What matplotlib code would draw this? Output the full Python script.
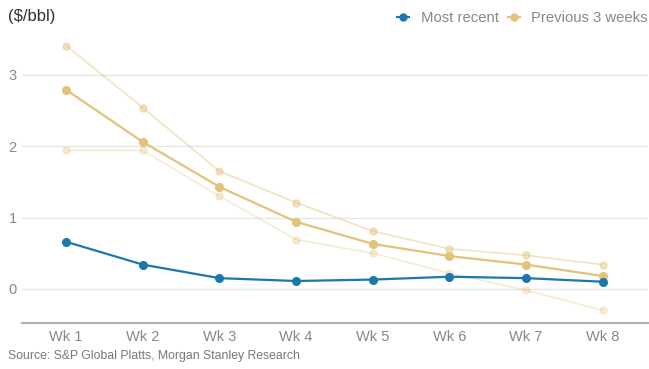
import matplotlib
matplotlib.use("Agg")
import matplotlib.pyplot as plt
from matplotlib.lines import Line2D

plt.rcParams['font.family'] = ['Liberation Sans', 'DejaVu Sans']

weeks = ["Wk 1", "Wk 2", "Wk 3", "Wk 4", "Wk 5", "Wk 6", "Wk 7", "Wk 8"]
most_recent = [0.66, 0.34, 0.15, 0.11, 0.13, 0.17, 0.15, 0.10]
prev_week_1 = [2.79, 2.06, 1.43, 0.94, 0.63, 0.46, 0.34, 0.18]
prev_week_2 = [3.41, 2.54, 1.65, 1.21, 0.81, 0.56, 0.47, 0.34]
prev_week_3 = [1.94, 1.94, 1.30, 0.69, 0.50, 0.22, -0.02, -0.30]
y_ticks = [0, 1, 2, 3]

blue = "#1a78ad"
gold = "#e3c27a"

fig = plt.figure(figsize=(6.49, 3.69), dpi=100)
ax = fig.add_axes([0.034, 0.125, 0.964, 0.821])

x = list(range(len(weeks)))
ax.plot(x, prev_week_3, color=gold, alpha=0.3, lw=1.2, marker='o', ms=5, zorder=2)
ax.plot(x, prev_week_2, color=gold, alpha=0.45, lw=1.2, marker='o', ms=5, zorder=2)
ax.plot(x, prev_week_1, color=gold, lw=1.6, marker='o', ms=5.5, zorder=3)
ax.plot(x, most_recent, color=blue, lw=1.6, marker='o', ms=5.5, zorder=4)

ax.set_xlim(-0.574, 7.587)
ax.set_ylim(-0.477, 3.77)
ax.set_xticks(x)
ax.set_xticklabels(weeks)
ax.set_yticks(y_ticks)
ax.set_yticklabels([str(v) for v in y_ticks])

ax.grid(axis='y', color='#e6e6e6', lw=1)
ax.set_axisbelow(True)
for side in ['top', 'right', 'left']:
    ax.spines[side].set_visible(False)
ax.spines['bottom'].set_color('#b0b0b0')
ax.spines['bottom'].set_linewidth(1.5)
ax.tick_params(axis='both', length=0, labelcolor='#888888', labelsize=10.5)
ax.tick_params(axis='x', pad=5)
ax.tick_params(axis='y', pad=4)

fig.text(0.012, 0.955, "($/bbl)", fontsize=12, color='#333333', va='center', ha='left')
fig.text(0.012, 0.035, "Source: S&P Global Platts, Morgan Stanley Research",
         fontsize=8.8, color='#777777', va='center', ha='left')

handles = [
    Line2D([], [], color=blue, marker='o', ms=5, lw=1.5),
    Line2D([], [], color=gold, marker='o', ms=5, lw=1.5),
]
leg = fig.legend(handles, ["Most recent", "Previous 3 weeks"], loc='center right',
                 bbox_to_anchor=(1.019, 0.95), ncol=2, frameon=False, fontsize=10.7,
                 handlelength=0.8, handletextpad=0.8, columnspacing=0.6)
for t in leg.get_texts():
    t.set_color('#888888')

fig.savefig("out.png", dpi=100)
